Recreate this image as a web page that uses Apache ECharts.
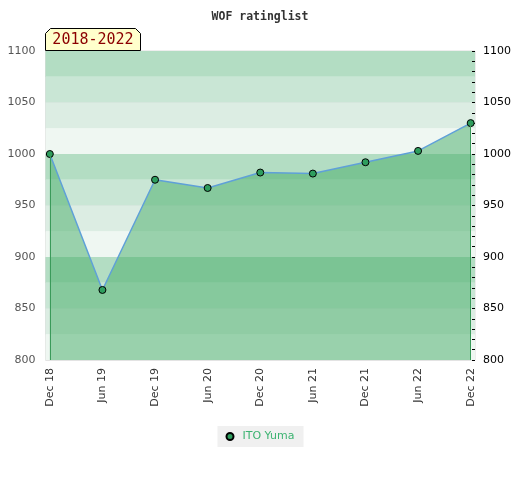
<!DOCTYPE html>
<html>
<head>
<meta charset="utf-8">
<script src="https://cdn.jsdelivr.net/npm/echarts@6/dist/echarts.min.js"></script>
<style>html,body{margin:0;padding:0;background:#fff}#c{width:520px;height:480px}</style>
</head>
<body>
<div id="c"></div>
<script>
var categories = ['Dec 18','Jun 19','Dec 19','Jun 20','Dec 20','Jun 21','Dec 21','Jun 22','Dec 22'];
var ratings = [1000, 868, 975, 967, 982, 981, 992, 1003, 1030];
var seriesName = 'ITO Yuma';
var yTicks = [800, 850, 900, 950, 1000, 1050, 1100];
var bandColors = ['#eff7f2', '#dcede3', '#c9e6d5', '#b3ddc3'];
var periodLabel = '2018-2022';

var yMin = yTicks[0], yMax = yTicks[yTicks.length - 1];
var pad = 0.082;
var pts = ratings.map(function (v, i) { return [i, v]; });
var last = ratings.length - 1;
var plain = function (v) { return String(v); };

var chart = echarts.init(document.getElementById('c'), null, {renderer: 'canvas'});
chart.setOption({
  animation: false,
  backgroundColor: '#fff',
  textStyle: {fontFamily: 'DejaVu Sans'},
  title: {
    text: 'WOF ratinglist', left: 'center', top: 6,
    textStyle: {fontFamily: 'DejaVu Sans Mono', fontWeight: 'bold', fontSize: 11.5, color: '#333'}
  },
  graphic: [{
    type: 'group', left: 45, top: 28, z: 100,
    children: [{
      type: 'polygon',
      shape: {points: [[0, 22], [0, 5], [5, 0], [90, 0], [95, 5], [95, 22]]},
      style: {fill: '#ffffcc', stroke: '#000', lineWidth: 1}
    }, {
      type: 'text', x: 47.5, y: 12,
      style: {text: periodLabel, fill: '#8b0000', font: '15px "DejaVu Sans Mono"', align: 'center', verticalAlign: 'middle'}
    }]
  }],
  legend: {
    bottom: 33, left: 'center',
    icon: 'circle', itemWidth: 7, itemHeight: 7,
    backgroundColor: '#f0f0f0', padding: [5, 9, 5, 8],
    textStyle: {color: '#3cb371', fontSize: 11, fontFamily: 'DejaVu Sans', padding: [0, 0, 0, 4]},
    data: [seriesName]
  },
  grid: {left: 45.5, right: 45, top: 51, bottom: 120, show: true, borderColor: '#dcdcdc', borderWidth: 1, backgroundColor: 'transparent'},
  xAxis: {
    type: 'value', min: -pad, max: last + pad,
    axisLine: {show: false}, axisTick: {show: false}, splitLine: {show: false},
    axisLabel: {
      customValues: categories.map(function (c, i) { return i; }),
      formatter: function (v) { return categories[Math.round(v)] || ''; },
      rotate: 90, color: '#333', fontSize: 11, margin: 8, fontFamily: 'DejaVu Sans'
    }
  },
  yAxis: [{
    type: 'value', min: yMin, max: yMax, interval: 50, position: 'left',
    axisLine: {show: false}, axisTick: {show: false},
    axisLabel: {color: '#555', fontSize: 11, margin: 10, fontFamily: 'DejaVu Sans', formatter: plain},
    splitLine: {show: true, lineStyle: {color: 'rgba(225,225,225,0.9)', width: 1}}
  }, {
    type: 'value', min: yMin, max: yMax, interval: 50, position: 'right',
    axisLine: {show: false},
    axisTick: {show: true, inside: true, length: 3, lineStyle: {color: '#000'}},
    minorTick: {show: true, splitNumber: 5, length: 3, lineStyle: {color: '#000'}},
    axisLabel: {color: '#000', fontSize: 11, margin: 8, fontFamily: 'DejaVu Sans', formatter: plain},
    splitLine: {show: false}
  }, {
    type: 'value', min: yMin, max: yMax, interval: 25, position: 'left',
    axisLine: {show: false}, axisTick: {show: false}, axisLabel: {show: false},
    splitLine: {show: false},
    splitArea: {show: true, areaStyle: {color: bandColors, opacity: 1}}
  }],
  series: [{
    name: seriesName, type: 'line', data: pts, yAxisIndex: 0,
    symbol: 'circle', symbolSize: 7,
    itemStyle: {color: '#2e9e5e', borderColor: '#000', borderWidth: 1},
    lineStyle: {color: '#5fa0d8', width: 1.5},
    areaStyle: {color: '#44ab66', opacity: 0.5, origin: 'start'},
    markLine: {
      silent: true, symbol: 'none', label: {show: false},
      lineStyle: {color: '#3a9a5a', width: 1, type: 'solid'},
      data: [
        [{coord: [0, ratings[0]]}, {coord: [0, yMin]}],
        [{coord: [last, ratings[last]]}, {coord: [last, yMin]}]
      ]
    }
  }]
});
</script>
</body>
</html>
